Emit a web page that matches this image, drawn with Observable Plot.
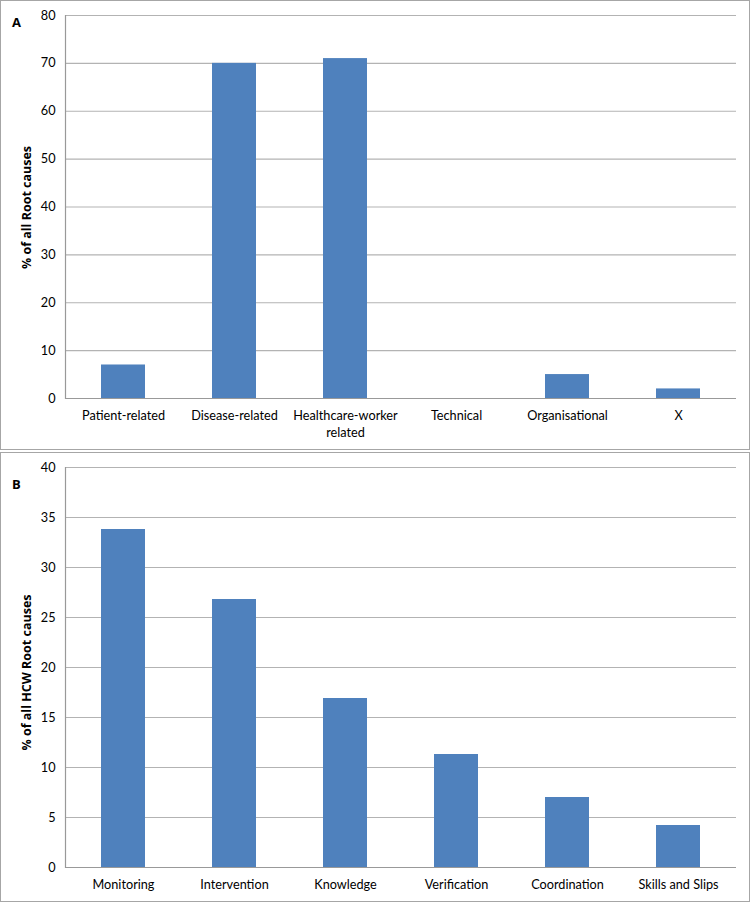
<!DOCTYPE html>
<html>
<head>
<meta charset="utf-8">
<script src="https://cdn.jsdelivr.net/npm/d3@7"></script>
<script src="https://cdn.jsdelivr.net/npm/@observablehq/plot@0.6"></script>
<style>
  html, body { margin: 0; padding: 0; background: #fff; }
  body { width: 750px; height: 904px; position: relative; font-family: Lato, "Open Sans", sans-serif; }
  .panel { position: absolute; left: 0; width: 748px; height: 448px; border: 1px solid #a6a6a6; background: #fff; }
  .letter { position: absolute; left: 11px; font: bold 13px "Open Sans", sans-serif; color: #000; }
  .ylab { position: absolute; font: bold 12.5px "Open Sans", sans-serif; color: #000; transform: rotate(-90deg); white-space: nowrap; transform-origin: center; }
</style>
</head>
<body>
<div id="pa" class="panel" style="top:0"><div class="letter" style="top:12px">A</div></div>
<div id="pb" class="panel" style="top:452px"><div class="letter" style="top:22px">B</div></div>
<script>
const catsA = ["Patient-related", "Disease-related", "Healthcare-worker\nrelated", "Technical", "Organisational", "X"];
const valsA = [7, 70, 71, 0, 5, 2];
const ticksA = [0, 10, 20, 30, 40, 50, 60, 70, 80];

const catsB = ["Monitoring", "Intervention", "Knowledge", "Verification", "Coordination", "Skills and Slips"];
const valsB = [33.8, 26.8, 16.9, 11.3, 7.0, 4.2];
const ticksB = [0, 5, 10, 15, 20, 25, 30, 35, 40];

function makeChart(cats, vals, ticks, ymax, mb) {
  const data = cats.map((c, i) => ({cat: c, v: vals[i]}));
  return Plot.plot({
    width: 748, height: 448,
    marginTop: 14, marginBottom: mb, marginLeft: 64, marginRight: 13,
    style: {fontFamily: "Lato, 'Open Sans', sans-serif", fontSize: "12.7px", color: "#000", background: "transparent"},
    x: {domain: cats, paddingInner: 0.6, paddingOuter: 0.3, label: null},
    y: {domain: [0, ymax], label: null},
    marks: [
      Plot.gridY(ticks, {stroke: "#b3b3b3", strokeOpacity: 1, strokeWidth: 1.2}),
      Plot.barY(data, {x: "cat", y: "v", fill: "#4f81bd"}),
      Plot.ruleY([0], {stroke: "#999", strokeWidth: 1.2}),
      Plot.frame({anchor: "left", stroke: "#999", strokeWidth: 1.2}),
      Plot.axisY({ticks, tickSize: 0, tickPadding: 10, fontSize: 12.7, label: null}),
      Plot.axisX({tickSize: 0, tickPadding: 9, fontSize: 12.7, label: null, lineHeight: 1.35})
    ]
  });
}

const a = makeChart(catsA, valsA, ticksA, 80, 51);
const b = makeChart(catsB, valsB, ticksB, 40, 34);
document.getElementById("pa").appendChild(a);
document.getElementById("pb").appendChild(b);

function addLabel(id, text, cy) {
  const d = document.createElement("div");
  d.className = "ylab";
  d.textContent = text;
  document.getElementById(id).appendChild(d);
  const w = d.offsetWidth, h = d.offsetHeight;
  d.style.left = (25 - w / 2) + "px";
  d.style.top = (cy - h / 2) + "px";
}
addLabel("pa", "% of all Root causes", 206);
addLabel("pb", "% of all HCW Root causes", 219);
</script>
</body>
</html>
